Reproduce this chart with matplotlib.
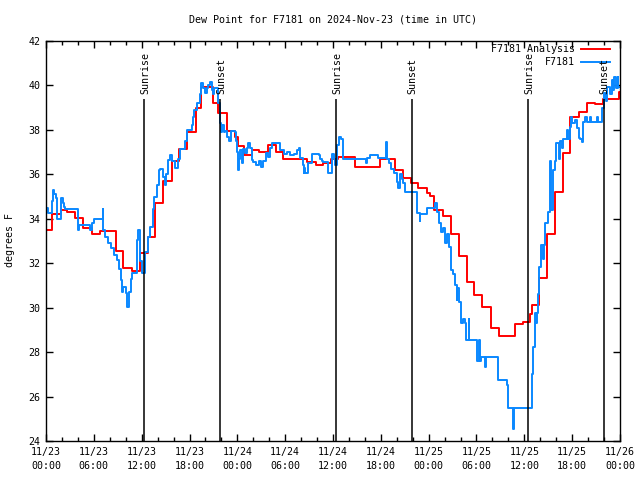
import matplotlib
matplotlib.use('Agg')
import matplotlib.pyplot as plt
from matplotlib.lines import Line2D
from matplotlib.ticker import MultipleLocator

plt.rcParams['font.family'] = ['DejaVu Sans Mono']
plt.rcParams['font.size'] = 7.2

# hours since 2024-11-23 00:00 UTC, step change points
red_t = [0.0, 0.75, 1.84, 2.68, 3.68, 4.68, 5.73, 6.77, 8.78, 9.7, 10.75, 11.8,
         12.84, 13.7, 14.72, 15.76, 16.73, 17.73, 18.77, 19.44, 20.9, 21.6, 22.7,
         23.71, 24.13, 24.84, 25.8, 26.76, 27.8, 28.85, 29.77, 32.78, 33.83, 34.79,
         35.75, 36.67, 38.76, 41.89, 43.77, 44.75, 45.8, 46.7, 47.8, 48.2, 48.7,
         49.8, 50.76, 51.8, 52.77, 53.7, 54.73, 55.78, 56.8, 58.83, 59.78, 60.7,
         60.9, 61.8, 62.85, 63.85, 64.81, 65.78, 66.85, 67.8, 68.86, 69.9, 71.88, 72.0]
red_v = [33.5, 34.2, 34.4, 34.3, 34.05, 33.57, 33.3, 33.46, 32.55, 31.77, 31.65, 32.47,
         33.19, 34.7, 35.7, 36.6, 37.14, 37.92, 39.0, 39.94, 39.2, 38.75, 37.95,
         37.7, 37.27, 36.87, 37.1, 36.99, 37.32, 36.99, 36.67, 36.57, 36.42, 36.52,
         36.67, 36.8, 36.35, 36.67, 36.2, 35.82, 35.6, 35.37, 35.15, 35.02, 34.4,
         34.12, 33.31, 32.34, 31.14, 30.57, 30.01, 29.07, 28.72, 29.25, 29.34, 29.71,
         30.12, 31.32, 33.31, 35.22, 36.95, 38.59, 38.82, 39.2, 39.17, 39.38, 39.72, 39.72]

obs_t = [0.0, 0.3, 0.75, 0.85, 0.95, 1.2, 1.42, 1.84, 1.92, 2.1, 2.25, 2.38, 3.97, 4.18,
         5.55, 5.73, 6.02, 7.11, 7.2, 7.4, 7.82, 8.11, 8.53, 8.86, 9.11, 9.37, 9.53, 9.7,
         10.03, 10.2, 10.37, 10.62, 10.79, 11.37, 11.45, 11.58, 11.79, 12.08, 12.42,
         12.85, 13.05, 13.4, 13.55, 13.88, 14.22, 14.3, 14.72, 14.9, 15.1, 15.3, 15.55,
         15.76, 16.2, 16.5, 16.81, 17.43, 17.73, 18.27, 18.45, 18.56, 18.9, 19.3, 19.44,
         19.73, 19.95, 20.15, 20.36, 20.57, 20.78, 20.9, 21.1, 21.6, 21.83, 21.9, 22.1,
         22.3, 22.5, 22.75, 23.0, 23.2, 23.75, 23.85, 24.0, 24.06, 24.15, 24.35, 24.55,
         24.75, 25.0, 25.2, 25.4, 25.65, 25.8, 26.0, 26.4, 26.76, 27.0, 27.2, 27.6, 27.9,
         28.15, 28.4, 28.8, 29.3, 29.8, 30.2, 30.6, 31.1, 31.5, 31.7, 31.9, 32.2, 32.3,
         32.4, 32.5, 32.9, 33.4, 34.2, 34.4, 34.6, 34.8, 35.4, 35.9, 36.1, 36.3, 36.5,
         36.8, 37.0, 37.2, 40.1, 40.3, 40.6, 41.6, 42.6, 42.7, 42.8, 43.0, 43.3, 43.6,
         44.0, 44.2, 44.35, 44.6, 44.8, 45.0, 46.5, 46.9, 46.97, 47.8, 48.8, 49.0, 49.3,
         49.6, 49.8, 50.0, 50.3, 50.6, 50.8, 51.0, 51.3, 51.5, 51.6, 51.85, 52.06, 52.26,
         52.5, 52.7, 53.0, 53.1, 54.1, 54.3, 54.4, 54.6, 55.1, 55.2, 56.7, 57.8, 58.0,
         58.6, 58.7, 60.95, 61.1, 61.3, 61.5, 61.6, 61.75, 61.9, 62.1, 62.3, 62.5, 62.6,
         63.0, 63.2, 63.4, 63.6, 63.8, 64.0, 64.3, 64.5, 64.7, 64.9, 65.3, 65.5, 65.7,
         65.8, 66.0, 66.3, 66.6, 66.8, 67.0, 67.2, 67.3, 67.6, 67.8, 68.2, 68.4, 69.1,
         69.3, 69.7, 70.0, 70.25, 70.4, 70.7, 70.95, 71.1, 71.3, 71.5, 71.7, 71.8, 72.0]
obs_v = [34.5, 34.25, 34.8, 35.3, 35.1, 34.95, 34.0, 34.5, 34.95, 34.7, 34.55, 34.45, 33.5, 33.7,
         33.5, 33.8, 34.0, 34.45, 33.5, 33.2, 32.9, 32.7, 32.35, 32.15, 31.75, 31.25, 30.7, 30.95,
         30.65, 30.05, 30.7, 31.3, 31.55, 32.0, 33.05, 33.5, 32.1, 31.55, 32.5,
         33.2, 33.65, 34.45, 35.0, 35.5, 36.2, 36.25, 35.9, 35.5, 36.0, 36.65, 36.85,
         36.6, 36.3, 36.7, 37.15, 37.5, 38.0, 38.2, 38.6, 38.9, 39.2, 39.6, 40.1,
         39.9, 39.65, 39.9, 40.0, 40.15, 39.8, 39.6, 39.9, 39.2, 38.3, 37.9, 38.2,
         37.9, 37.95, 37.7, 37.5, 37.95, 37.9, 37.5, 37.0, 36.2, 36.7, 37.1, 36.5,
         37.15, 36.95, 37.2, 37.4, 37.2, 36.65, 36.55, 36.4, 36.6, 36.35, 36.6, 36.95, 36.8,
         37.2, 37.4, 37.4, 37.1, 36.9, 37.0, 36.85, 36.9, 37.1, 37.2, 36.75, 36.4, 36.05,
         36.3, 36.05, 36.5, 36.9, 36.85, 36.7, 36.6, 36.55, 36.05, 36.9, 36.7, 36.4, 37.3,
         37.7, 37.6, 36.7, 36.5, 36.75, 36.85, 36.75, 36.85, 37.45, 36.7, 36.5, 36.25, 36.05,
         35.65, 35.4, 36.0, 35.8, 35.6, 35.2, 34.25, 33.9, 34.2, 34.5, 34.7, 34.3, 33.8,
         33.4, 33.6, 32.9, 33.3, 32.75, 31.7, 31.5, 31.0, 30.35, 30.9, 30.25, 29.3, 29.5,
         29.3, 28.55, 29.5, 28.55, 27.6, 28.55, 27.6, 27.8, 27.35, 27.8, 26.75, 26.5, 25.5,
         24.55, 25.5, 27.0, 28.25, 29.75, 29.3, 29.75, 30.6, 31.85, 32.8, 32.2, 32.8, 33.8,
         34.3, 36.6, 34.4, 36.2, 36.6, 37.4, 36.7, 37.5, 37.2, 37.6, 38.0, 37.6, 38.15,
         38.6, 38.3, 38.45, 38.1, 37.65, 37.6, 37.45, 38.35, 38.6, 38.35, 38.6, 38.35, 38.6,
         38.35, 39.0, 39.65, 39.3, 39.95, 39.6, 40.25, 39.8, 40.4, 39.9, 40.4, 39.95, 39.95]

sun_t = [12.32, 21.86, 36.4, 45.87, 60.48, 69.95]
sun_lbl = ['Sunrise', 'Sunset', 'Sunrise', 'Sunset', 'Sunrise', 'Sunset']

xticks = [0, 6, 12, 18, 24, 30, 36, 42, 48, 54, 60, 66, 72]
xtick_labels = ['11/23\n00:00', '11/23\n06:00', '11/23\n12:00', '11/23\n18:00',
                '11/24\n00:00', '11/24\n06:00', '11/24\n12:00', '11/24\n18:00',
                '11/25\n00:00', '11/25\n06:00', '11/25\n12:00', '11/25\n18:00',
                '11/26\n00:00']

RED = '#ff0000'
BLUE = '#0a88ff'

fig = plt.figure(figsize=(6.4, 4.8), dpi=100)
ax = fig.add_axes([46 / 640, 39 / 480, 574 / 640, 400 / 480])

ax.step(red_t, red_v, where='post', color=RED, lw=1.4)
ax.step(obs_t, obs_v, where='post', color=BLUE, lw=1.4)

ax.vlines(sun_t, 24, 39.4, color='black', lw=1.1)
for t, s in zip(sun_t, sun_lbl):
    ax.text(t + 0.1, 39.6, s, rotation=90, ha='center', va='bottom')

ax.set_xlim(0, 72)
ax.set_ylim(24, 42)
ax.set_xticks(xticks)
ax.set_xticklabels(xtick_labels, linespacing=1.55)
ax.xaxis.set_minor_locator(MultipleLocator(2))
ax.yaxis.set_major_locator(MultipleLocator(2))
ax.tick_params(which='both', direction='in', top=True, right=True, width=1, color='black')
ax.tick_params(which='major', length=5, pad=4)
ax.tick_params(which='minor', length=3)
for s in ax.spines.values():
    s.set_linewidth(1)

# key, gnuplot style: right-aligned text with sample line on the right
key = [('F7181 Analysis', RED), ('F7181', BLUE)]
for i, (name, c) in enumerate(key):
    yk = 0.98 - i * 0.0325
    ax.text(0.921, yk, name, transform=ax.transAxes, ha='right', va='center')
    ax.add_line(Line2D([0.932, 0.983], [yk, yk], transform=ax.transAxes, color=c, lw=1.4))

fig.text(333 / 640, 1 - 20 / 480, 'Dew Point for F7181 on 2024-Nov-23 (time in UTC)',
         ha='center', va='center')
fig.text(10 / 640, 0.5, 'degrees F', rotation=90, ha='center', va='center')

fig.savefig('out.png', dpi=100)
